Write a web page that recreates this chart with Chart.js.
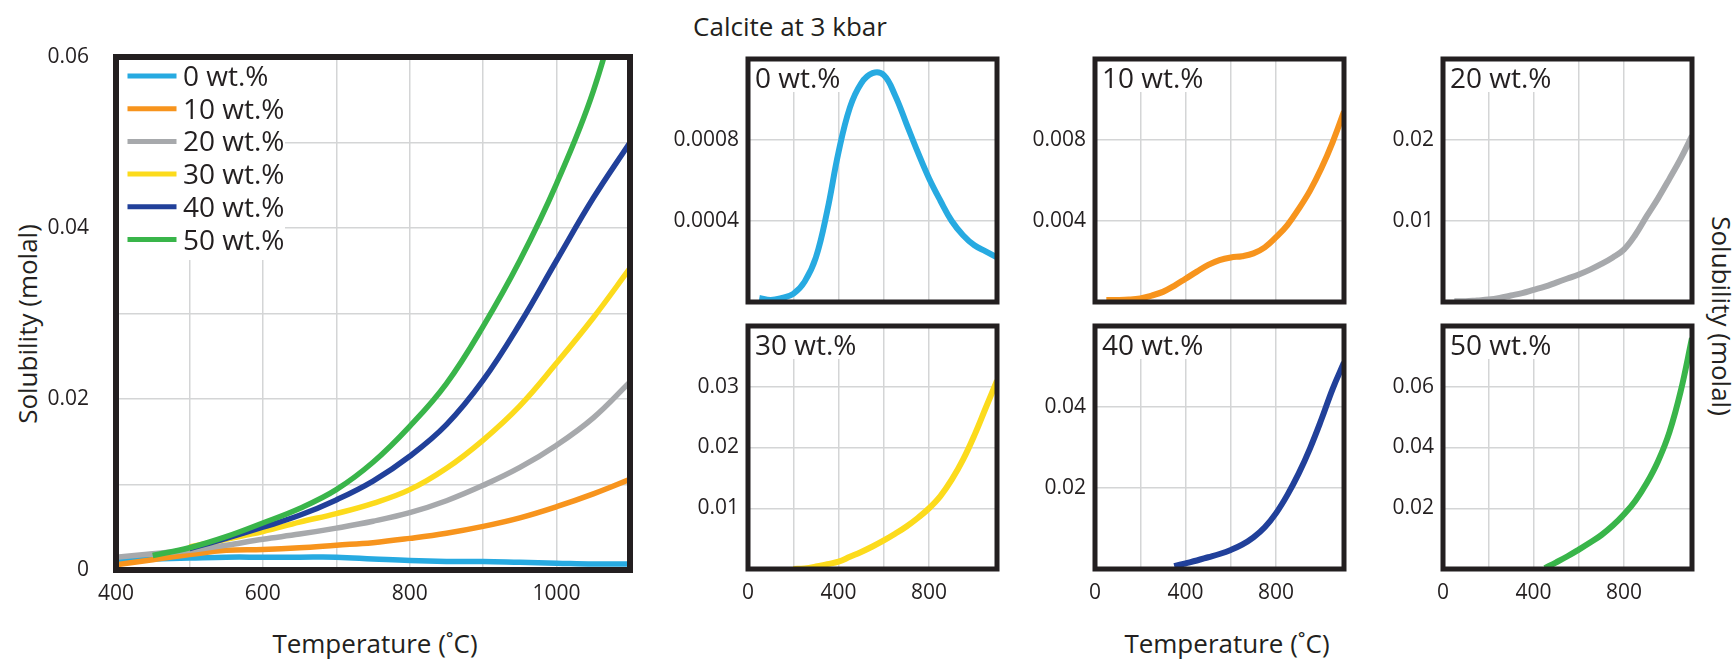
<!DOCTYPE html>
<html>
<head>
<meta charset="utf-8">
<title>Calcite at 3 kbar</title>
<script src="https://cdn.jsdelivr.net/npm/chart.js@4.4.1/dist/chart.umd.min.js"></script>
<style>
  body { margin: 0; background: #fff; overflow: hidden; }
  #fig { position: relative; width: 1736px; height: 659px; font-family: 'Open Sans', sans-serif; color: #231f20; }
  #fig canvas { position: absolute; }
  .txt { position: absolute; font-size: 26px; white-space: nowrap; line-height: 1; }
</style>
</head>
<body>
<div id="fig">
  <div class="txt" style="left:790px;top:26px;transform:translate(-50%,-50%)">Calcite at 3 kbar</div>
  <div class="txt" style="left:27px;top:324px;transform:translate(-50%,-50%) rotate(-90deg)">Solubility (molal)</div>
  <div class="txt" style="left:1722px;top:316px;transform:translate(-50%,-50%) rotate(90deg)">Solubility (molal)</div>
  <div class="txt" style="left:375px;top:643px;transform:translate(-50%,-50%)">Temperature (˚C)</div>
  <div class="txt" style="left:1227px;top:643px;transform:translate(-50%,-50%)">Temperature (˚C)</div>

  <!-- canvases are sized so that each plot area lands where the figure has it -->
  <canvas id="main" width="650" height="647" style="left:0;top:12px"></canvas>
  <canvas id="p0" width="369" height="297" style="left:648px;top:29px"></canvas>
  <canvas id="p1" width="369" height="297" style="left:995px;top:29px"></canvas>
  <canvas id="p2" width="369" height="297" style="left:1343px;top:29px"></canvas>
  <canvas id="p3" width="369" height="363" style="left:648px;top:296px"></canvas>
  <canvas id="p4" width="369" height="363" style="left:995px;top:296px"></canvas>
  <canvas id="p5" width="369" height="363" style="left:1343px;top:296px"></canvas>
</div>
<script>
// ---------- series ----------
const seriesLabels = ['0 wt.%', '10 wt.%', '20 wt.%', '30 wt.%', '40 wt.%', '50 wt.%'];
const seriesColors = ['#27aae1', '#f7941d', '#a7a9ac', '#fcdb1c', '#21409a', '#39b54a'];

// big panel, 400-1100 C
const mainTemps = [400, 450, 500, 550, 600, 650, 700, 750, 800, 850, 900, 950, 1000, 1050, 1100];
const main0  = [0.0012, 0.0013, 0.0014, 0.0015, 0.0015, 0.0015, 0.0015, 0.0013, 0.0011, 0.0010, 0.0010, 0.0009, 0.0008, 0.0007, 0.0007];
const main10 = [0.0006, 0.0012, 0.0018, 0.0023, 0.0024, 0.0026, 0.0029, 0.0032, 0.0037, 0.0043, 0.0051, 0.0061, 0.0074, 0.0089, 0.0106];
const main20 = [0.0015, 0.0019, 0.0023, 0.0029, 0.0036, 0.0042, 0.0049, 0.0057, 0.0067, 0.0081, 0.0099, 0.0120, 0.0146, 0.0178, 0.0220];
const main30 = [null, null, 0.0027, 0.0036, 0.0045, 0.0056, 0.0066, 0.0078, 0.0094, 0.0119, 0.0152, 0.0192, 0.0242, 0.0295, 0.0353];
const main40 = [null, null, 0.0025, 0.0037, 0.0050, 0.0064, 0.0082, 0.0104, 0.0133, 0.0170, 0.0222, 0.0288, 0.0362, 0.0435, 0.0500];
const main50 = [null, 0.0017, 0.0026, 0.0039, 0.0055, 0.0072, 0.0094, 0.0126, 0.0168, 0.0218, 0.0285, 0.0362, 0.0452, 0.0560, 0.0710];

// small panels, 0-1100 C
const panelTemps = [0, 50, 100, 150, 200, 250, 300, 350, 400, 450, 500, 550, 600, 650, 700, 750, 800, 850, 900, 950, 1000, 1050, 1100];
const panel0  = [null, 0.00002, 0.00001, 0.00002, 0.00004, 0.0001, 0.00022, 0.00045, 0.00074, 0.00096, 0.00108, 0.00113, 0.00112, 0.00102, 0.00088, 0.00074, 0.00061, 0.0005, 0.0004, 0.00033, 0.00028, 0.00025, 0.00022];
const panel10 = [null, 0.0001, 0.0001, 0.00012, 0.00018, 0.00032, 0.0005, 0.0008, 0.00115, 0.0015, 0.00183, 0.00207, 0.0022, 0.00226, 0.0024, 0.0027, 0.0032, 0.0038, 0.0046, 0.0055, 0.0066, 0.0079, 0.0094];
const panel20 = [null, 0.0001, 0.0001, 0.0002, 0.0003, 0.0005, 0.0008, 0.0011, 0.0015, 0.0019, 0.0024, 0.0029, 0.0034, 0.004, 0.0047, 0.0055, 0.0065, 0.0083, 0.0106, 0.0128, 0.0152, 0.0177, 0.0205];
const panel30 = [null, null, null, null, 0, 0.0001, 0.0004, 0.0008, 0.0012, 0.002, 0.0028, 0.0037, 0.0047, 0.0058, 0.007, 0.0084, 0.01, 0.012, 0.0147, 0.018, 0.022, 0.0265, 0.031];
const panel40 = [null, null, null, null, null, null, null, 0.0007, 0.0014, 0.0021, 0.0029, 0.0037, 0.0047, 0.006, 0.0078, 0.0103, 0.0138, 0.0183, 0.0236, 0.0298, 0.0369, 0.0445, 0.051];
const panel50 = [null, null, null, null, null, null, null, null, null, 0.0003, 0.0022, 0.0042, 0.0064, 0.0087, 0.0112, 0.0143, 0.018, 0.0225, 0.0283, 0.0355, 0.045, 0.0585, 0.076];

// axes
const mainXTicks = [400, 600, 800, 1000];
const mainYTicks = ['0', '0.02', '0.04', '0.06'];
const panelXTicks = [0, 400, 800];
const panelYMax  = [0.0012, 0.012, 0.03, 0.04, 0.06, 0.08];
const panelYStep = [0.0004, 0.004, 0.01, 0.01, 0.02, 0.02];
const panelYTicks = [
  ['0.0004', '0.0008'],
  ['0.004', '0.008'],
  ['0.01', '0.02'],
  ['0.01', '0.02', '0.03'],
  ['0.02', '0.04'],
  ['0.02', '0.04', '0.06']
];

// ---------- helpers ----------
const ink = '#231f20';
const gridColor = '#d4d5d6';
const font = "'Open Sans', sans-serif";

Chart.defaults.font.family = font;
Chart.defaults.color = ink;

function points(temps, vals) {
  return temps.map((t, i) => ({ x: t, y: vals[i] })).filter(p => p.y !== null);
}

// only the listed values get a label, the other grid lines stay bare
function pick(list) {
  return v => {
    const hit = list.find(s => Math.abs(Number(s) - v) < 1e-9);
    return hit === undefined ? '' : String(hit);
  };
}

// white box + labels under the curves, thick frame over them
function framePlugin(o) {
  return {
    id: 'frame',
    beforeDatasetsDraw(chart) {
      const { ctx, chartArea: a } = chart;
      ctx.save();
      ctx.font = '28px ' + font;
      ctx.textBaseline = 'alphabetic';
      if (o.legend) {
        ctx.fillStyle = '#fff';
        ctx.fillRect(a.left, a.top, 169, 203);
        chart.data.datasets.forEach((ds, i) => {
          const y = a.top + 19 + i * 32.7;
          ctx.strokeStyle = ds.borderColor;
          ctx.lineWidth = 5;
          ctx.beginPath();
          ctx.moveTo(a.left + 11.5, y);
          ctx.lineTo(a.left + 60.5, y);
          ctx.stroke();
          ctx.fillStyle = ink;
          ctx.fillText(ds.label, a.left + 67, y + 10);
        });
      } else {
        const label = chart.data.datasets[0].label;
        const w = ctx.measureText(label).width;
        ctx.fillStyle = '#fff';
        ctx.fillRect(a.left, a.top, w + 12, 33);
        ctx.fillStyle = ink;
        ctx.fillText(label, a.left + 7, a.top + 29);
      }
      ctx.restore();
    },
    afterDatasetsDraw(chart) {
      const { ctx, chartArea: a } = chart;
      ctx.save();
      ctx.strokeStyle = ink;
      ctx.lineWidth = o.frame;
      ctx.strokeRect(a.left, a.top, a.right - a.left, a.bottom - a.top);
      ctx.restore();
    }
  };
}

function axisX(min, max, step, labels, height) {
  return {
    type: 'linear', min, max,
    border: { display: false },
    grid: { color: gridColor, lineWidth: 1.5, drawTicks: false },
    ticks: { stepSize: step, autoSkip: false, maxRotation: 0, padding: 11, font: { size: 21 }, color: ink, callback: pick(labels) },
    afterFit: s => { s.height = height; }
  };
}

function axisY(max, step, labels, width, padding) {
  return {
    type: 'linear', min: 0, max,
    border: { display: false },
    grid: { color: gridColor, lineWidth: 1.5, drawTicks: false },
    ticks: { stepSize: step, autoSkip: false, padding, font: { size: 21 }, color: ink, callback: pick(labels) },
    afterFit: s => { s.width = width; }
  };
}

// top padding is larger than the y tick label overhang so the plot area stays put
function baseOptions(padTop) {
  return {
    responsive: false,
    devicePixelRatio: 1,
    animation: false,
    events: [],
    layout: { padding: { top: padTop, right: 20, left: 0, bottom: 0 } },
    plugins: { legend: { display: false }, tooltip: { enabled: false } },
    elements: { point: { radius: 0 }, line: { tension: 0.4 } }
  };
}

// ---------- big chart ----------
const mainSeries = [main0, main10, main20, main30, main40, main50];

new Chart(document.getElementById('main'), {
  type: 'line',
  data: {
    datasets: mainSeries.map((vals, i) => ({
      label: seriesLabels[i],
      data: points(mainTemps, vals),
      borderColor: seriesColors[i],
      borderWidth: 5.5,
      order: 6 - i
    }))
  },
  options: {
    ...baseOptions(45),
    scales: {
      x: axisX(400, 1100, 100, mainXTicks, 89),
      y: axisY(0.06, 0.01, mainYTicks, 116, 27)
    }
  },
  plugins: [framePlugin({ legend: true, frame: 6 })]
});

// ---------- small panels ----------
const panelSeries = [panel0, panel10, panel20, panel30, panel40, panel50];

panelSeries.forEach((vals, i) => {
  const bottomRow = i >= 3;
  new Chart(document.getElementById('p' + i), {
    type: 'line',
    data: {
      datasets: [{
        label: seriesLabels[i],
        data: points(panelTemps, vals),
        borderColor: seriesColors[i],
        borderWidth: 6
      }]
    },
    options: {
      ...baseOptions(30),
      scales: {
        x: axisX(0, 1100, 200, bottomRow ? panelXTicks : [], bottomRow ? 90 : 24),
        y: axisY(panelYMax[i], panelYStep[i], panelYTicks[i], 100, 9)
      }
    },
    plugins: [framePlugin({ legend: false, frame: 5 })]
  });
});
</script>
</body>
</html>
